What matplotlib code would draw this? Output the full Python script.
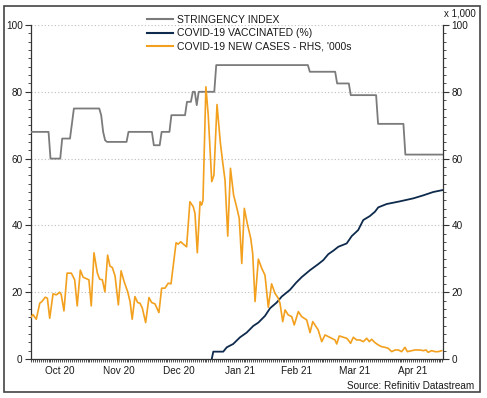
import numpy as np
import pandas as pd
import matplotlib
matplotlib.use("Agg")
import matplotlib.pyplot as plt
import matplotlib.dates as mdates
from matplotlib.lines import Line2D
from matplotlib.patches import Rectangle

plt.rcParams['font.family'] = ['Liberation Sans', 'DejaVu Sans']

START = pd.Timestamp("2020-10-01")
END_DAY = 211.3

# Stringency index: step levels (day offset from 1 Oct 2020 where level starts)
str_change_day = [0, 10, 16, 21, 22, 36, 37, 38, 39, 50, 63, 67, 72, 80, 83, 85, 86, 95, 143, 157, 164, 178, 192]
str_level      = [68, 60, 66, 70.5, 75, 73, 68, 65.5, 65, 68, 64, 68, 73, 77, 80, 76, 80, 88, 86, 82.5, 79, 70.4, 61.2]

# COVID-19 vaccinated (%)
vac_day = [92.7, 93.5, 98.6, 100.4, 103.7, 107.2, 110.6, 114.0, 116.6, 120.0, 122.6, 126.0, 128.6,
           132.8, 135.9, 138.8, 143.1, 147.3, 149.9, 152.5, 155.0, 157.6, 161.9, 164.5, 167.8,
           170.4, 173.8, 176.4, 178.1, 182.4, 189.2, 196.1, 201.2, 206.3, 211.3]
vac_val = [0, 2.2, 2.2, 3.5, 4.5, 6.5, 7.9, 9.9, 10.9, 12.9, 15.2, 16.9, 18.7,
           20.7, 22.8, 24.5, 26.6, 28.4, 29.6, 31.4, 32.4, 33.6, 34.6, 36.8, 38.6,
           41.6, 42.8, 44.1, 45.4, 46.4, 47.2, 48.1, 49.0, 50.0, 50.6]

# COVID-19 new cases ('000s, RHS)
case_day = [0, 1.0, 2.7, 4.5, 5.6, 7.3, 8.4, 9.6, 11.3, 13.0, 14.7, 15.5, 16.9, 18.5, 20.7, 22.4,
            23.7, 25.3, 26.7, 28.9, 29.7, 30.9, 32.3, 34.0, 35.2, 36.6, 37.9, 39.3, 40.5, 41.7,
            43.1, 44.8, 46.2, 47.8, 49.6, 50.8, 51.9, 53.3, 54.7, 55.9, 57.1, 58.8, 60.5, 61.9,
            63.6, 65.6, 67.0, 68.7, 70.4, 71.8, 74.4, 75.5, 76.8, 78.1, 79.8, 81.5, 83.2, 84.1,
            85.3, 86.7, 87.5, 88.2, 89.7, 90.9, 92.7, 93.8, 95.4, 97.1, 98.6, 99.5, 100.9, 102.3,
            103.9, 105.5, 106.8, 108.1, 109.4, 110.9, 112.7, 113.7, 114.9, 116.6, 118.3, 120.0,
            121.7, 123.4, 125.1, 126.8, 127.7, 129.1, 130.3, 131.9, 133.7, 135.0, 137.1, 138.8,
            141.4, 143.1, 144.5, 146.2, 147.3, 149.1, 150.8, 152.5, 154.2, 155.9, 156.8, 158.1,
            160.2, 161.9, 162.7, 163.9, 165.3, 167.0, 168.7, 170.4, 172.2, 173.5, 174.7, 176.4,
            178.1, 179.8, 181.5, 183.2, 185.0, 186.7, 188.4, 190.1, 191.8, 193.0, 195.2, 196.9,
            199.5, 201.2, 202.6, 203.7, 205.5, 207.2, 208.9, 210.6]
case_val = [12.5, 13.3, 11.9, 16.7, 17.2, 18.5, 18.2, 12.2, 19.5, 19.2, 20.0, 19.3, 14.4, 25.7, 25.7, 23.7,
            15.9, 26.6, 24.5, 23.9, 23.7, 15.9, 31.8, 25.8, 23.9, 23.7, 20.1, 31.1, 27.8, 27.4,
            24.9, 16.2, 26.4, 23.1, 20.1, 17.2, 11.9, 18.7, 16.9, 16.7, 15.2, 10.9, 18.4, 16.9,
            16.5, 13.9, 21.2, 21.2, 22.7, 22.5, 34.8, 34.4, 35.1, 34.4, 33.6, 47.1, 45.6, 43.6,
            31.8, 47.1, 46.1, 47.5, 81.5, 73.0, 53.1, 55.0, 76.2, 64.8, 57.6, 53.6, 36.8, 57.1,
            49.1, 45.4, 42.1, 28.6, 45.1, 40.6, 36.1, 31.6, 17.2, 29.9, 27.2, 25.1,
            15.5, 22.5, 19.7, 18.2, 16.7, 11.2, 14.7, 13.2, 12.7, 10.2, 14.2, 12.7,
            11.7, 7.9, 11.2, 9.7, 8.7, 5.2, 7.2, 6.7, 6.2, 5.7, 4.5, 6.9,
            6.5, 6.2, 5.7, 4.7, 6.5, 5.7, 5.7, 5.2, 6.2, 5.2, 5.9, 4.9,
            4.2, 3.7, 3.5, 3.2, 2.2, 2.7, 2.7, 2.2, 3.5, 2.2, 2.5, 2.7,
            2.7, 2.5, 2.7, 2.0, 2.5, 2.2, 2.2, 2.5]

month_starts = ["2020-11-01", "2020-12-01", "2021-01-01", "2021-02-01", "2021-03-01", "2021-04-01"]
month_labels = ["Oct 20", "Nov 20", "Dec 20", "Jan 21", "Feb 21", "Mar 21", "Apr 21"]
month_mids = ["2020-10-16", "2020-11-15", "2020-12-16", "2021-01-16", "2021-02-14", "2021-03-16", "2021-04-15"]
y_ticks = [0, 20, 40, 60, 80, 100]

def to_dates(days):
    return START + pd.to_timedelta(np.asarray(days, dtype=float), unit="D")

# stringency daily series from step levels
str_days = np.arange(0, 212)
idx = np.searchsorted(str_change_day, str_days, side="right") - 1
str_vals = np.asarray(str_level)[idx]

C_GRAY = "#7b7b7b"
C_NAVY = "#0e2a4c"
C_ORANGE = "#f2a01e"
C_TEXT = "#1a1a1a"

fig = plt.figure(figsize=(4.87, 3.98), dpi=100)
W, H = 487, 398
ax = fig.add_axes([31 / W, 39 / H, 412 / W, 334 / H])
ax2 = ax.twinx()

ax.plot(to_dates(str_days), str_vals, color=C_GRAY, lw=1.3, zorder=3)
ax.plot(to_dates(vac_day), vac_val, color=C_NAVY, lw=1.3, zorder=3)
ax2.plot(to_dates(case_day), case_val, color=C_ORANGE, lw=1.2, zorder=4)

for a in (ax, ax2):
    a.set_xlim(START, START + pd.Timedelta(days=END_DAY))
    a.set_ylim(0, 100)
    a.set_yticks(y_ticks)
    a.yaxis.set_minor_locator(matplotlib.ticker.MultipleLocator(2.5))
    a.spines['top'].set_visible(False)
    for s in a.spines.values():
        s.set_color("#333333")
        s.set_linewidth(0.9)

ax2.set_zorder(ax.get_zorder() + 1)
ax2.patch.set_visible(False)
ax2.spines['left'].set_visible(False)
ax2.spines['bottom'].set_visible(False)
ax.spines['right'].set_visible(False)

# x axis: gridlines at month starts, labels at mid-month
ax.set_xticks(pd.to_datetime(month_starts))
ax.set_xticklabels([])
ax.xaxis.set_minor_locator(mdates.DayLocator())
ax.tick_params(axis='x', which='major', length=4, direction='out', color="#333333", width=0.8)
ax.tick_params(axis='x', which='minor', length=2, direction='out', color="#333333", width=0.6)
for d, lab in zip(month_mids, month_labels):
    ax.text(pd.Timestamp(d), -2.0, lab, ha='center', va='top', fontsize=7.2,
            color=C_TEXT, transform=ax.transData)

ax.tick_params(axis='y', which='major', length=4, direction='out', labelsize=7.2,
               labelcolor=C_TEXT, color="#333333", width=0.8, pad=2)
ax.tick_params(axis='y', which='minor', length=2, direction='out', color="#333333", width=0.6)
ax2.tick_params(axis='y', which='major', length=4, direction='out', labelsize=7.2,
                labelcolor=C_TEXT, color="#333333", width=0.8, pad=2)
ax2.tick_params(axis='y', which='minor', length=2, direction='out', color="#333333", width=0.6)
ax2.set_xticks([])

ax.grid(True, which='major', axis='both', color="#bdbdbd", linestyle=(0, (1, 2)), linewidth=0.8)
ax.set_axisbelow(True)

# legend
handles = [Line2D([], [], color=C_GRAY, lw=1.5),
           Line2D([], [], color=C_NAVY, lw=1.5),
           Line2D([], [], color=C_ORANGE, lw=1.5)]
labels = ["STRINGENCY INDEX", "COVID-19 VACCINATED (%)", "COVID-19 NEW CASES - RHS, '000s"]
leg = fig.legend(handles, labels, loc='upper left', bbox_to_anchor=(147 / W, 1 - 15 / H),
                 frameon=False, fontsize=7.5, handlelength=2.5, handletextpad=0.35,
                 labelspacing=0.32, borderpad=0, borderaxespad=0)
for t in leg.get_texts():
    t.set_color(C_TEXT)

fig.text(460 / W, 1 - 13 / H, "x 1,000", ha='center', va='center', fontsize=7, color=C_TEXT)
fig.text(474 / W, 1 - 386 / H, "Source: Refinitiv Datastream", ha='right', va='center',
         fontsize=7.2, color=C_TEXT)

fig.patches.append(Rectangle((4 / W, 1 - 392 / H), 476 / W, 386 / H, transform=fig.transFigure,
                             fill=False, edgecolor="#444444", linewidth=1.2))

fig.savefig("out.png", dpi=100)
